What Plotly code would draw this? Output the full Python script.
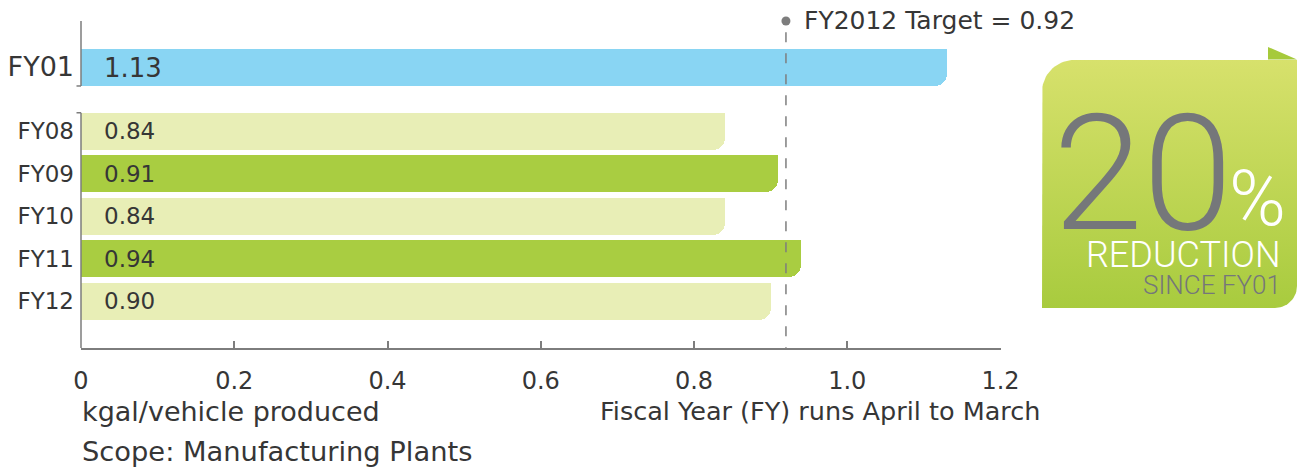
import numpy as np
import plotly.graph_objects as go

# ---------------- data ----------------
categories = ["FY01", "FY08", "FY09", "FY10", "FY11", "FY12"]
values = [1.13, 0.84, 0.91, 0.84, 0.94, 0.90]
target_value = 0.92
target_label = "FY2012 Target = 0.92"
x_tick_values = [0, 0.2, 0.4, 0.6, 0.8, 1.0, 1.2]
x_tick_labels = ["0", "0.2", "0.4", "0.6", "0.8", "1.0", "1.2"]
unit_label = "kgal/vehicle produced"
scope_label = "Scope: Manufacturing Plants"
fy_note = "Fiscal Year (FY) runs April to March"
badge_number = "20"
badge_unit = "%"
badge_word = "REDUCTION"
badge_since = "SINCE FY01"

# ---------------- styling ----------------
W, H = 1299, 472
FONT = "DejaVu Sans"
LIGHTFONT = "Roboto"
TXT = "#363636"
GREY = "#7d7d7d"
BLUE = "#89D5F3"
LIGHT = "#E8EEB6"
DARK = "#A9CD41"
bar_colors = [BLUE, LIGHT, DARK, LIGHT, DARK, LIGHT]

pos = [0.0] + [1.5 + i for i in range(len(categories) - 1)]
bar_w = 0.87
y_top, y_bot = -1.094, 6.6

px = lambda x: x / W
py = lambda y: 1 - y / H

fig = go.Figure()

fig.add_trace(go.Bar(
    x=values, y=pos, orientation="h", width=bar_w,
    marker=dict(color=bar_colors, line=dict(width=0), cornerradius=12),
    hoverinfo="skip", showlegend=False))
fig.add_trace(go.Bar(
    x=values, y=pos, orientation="h", width=bar_w / 2, offset=-bar_w / 2,
    marker=dict(color=bar_colors, line=dict(width=0)),
    hoverinfo="skip", showlegend=False))

fig.add_trace(go.Scatter(
    x=[target_value], y=[y_top], mode="markers",
    marker=dict(size=9, color=GREY), cliponaxis=False,
    hoverinfo="skip", showlegend=False))

# ---------------- badge (pixel-space overlay axes) ----------------
bx0, bx1, by0, by1 = 1042, 1297, 60, 308
r1, r2 = 32, 22
t1 = np.linspace(np.pi, 1.5 * np.pi, 20)
t2 = np.linspace(0, 0.5 * np.pi, 20)
xs = [bx0, bx0] + list(bx0 + r1 + r1 * np.cos(t1)) + [bx1]
ys = [by1, by0 + r1] + list(by0 + r1 + r1 * np.sin(t1)) + [by0]
xs += list(bx1 - r2 + r2 * np.cos(t2)) + [bx0]
ys += list(by1 - r2 + r2 * np.sin(t2)) + [by1]
fig.add_trace(go.Scatter(
    x=xs, y=ys, mode="lines", fill="toself", line=dict(width=0),
    fillgradient=dict(type="vertical", start=by0, stop=by1,
                      colorscale=[[0, "#D7E16C"], [1, "#A8CB3E"]]),
    xaxis="x2", yaxis="y2", hoverinfo="skip", showlegend=False))
fig.add_trace(go.Scatter(
    x=[1268, 1268, 1297, 1268], y=[47, 59.5, 59.5, 47], mode="lines",
    fill="toself", fillcolor="#A6CA3B", line=dict(width=0),
    xaxis="x2", yaxis="y2", hoverinfo="skip", showlegend=False))

# ---------------- shapes ----------------
shapes = []
ax_x = px(81)
tick_x = px(76.5)
ln = dict(color=GREY, width=1.5)
shapes.append(dict(type="line", xref="paper", yref="y", x0=ax_x, x1=ax_x,
                   y0=y_top, y1=pos[0] + bar_w / 2, line=ln))
shapes.append(dict(type="line", xref="paper", yref="y", x0=tick_x, x1=ax_x,
                   y0=pos[0] + bar_w / 2, y1=pos[0] + bar_w / 2, line=ln))
shapes.append(dict(type="line", xref="paper", yref="y", x0=ax_x, x1=ax_x,
                   y0=pos[1] - bar_w / 2, y1=y_bot, line=ln))
shapes.append(dict(type="line", xref="paper", yref="y", x0=tick_x, x1=ax_x,
                   y0=pos[1] - bar_w / 2, y1=pos[1] - bar_w / 2, line=ln))
shapes.append(dict(type="line", xref="x", yref="y", x0=target_value, x1=target_value,
                   y0=-0.83, y1=y_bot, line=dict(color=GREY, width=1.5, dash="10px,11px")))

# ---------------- annotations ----------------
ann = []
for i, (v, p) in enumerate(zip(values, pos)):
    ann.append(dict(x=0.028, y=p, xref="x", yref="y", text=f"{v:.2f}",
                    xanchor="left", yanchor="middle", showarrow=False,
                    font=dict(size=26 if i == 0 else 23, color=TXT)))
ann.append(dict(x=target_value, y=y_top, xref="x", yref="y", text=target_label,
                xanchor="left", yanchor="middle", xshift=16, showarrow=False,
                font=dict(size=25, color=TXT)))
ann.append(dict(x=px(80), y=py(411), xref="paper", yref="paper", text=unit_label,
                xanchor="left", yanchor="middle", showarrow=False,
                font=dict(size=27, color=TXT)))
ann.append(dict(x=px(80), y=py(451), xref="paper", yref="paper", text=scope_label,
                xanchor="left", yanchor="middle", showarrow=False,
                font=dict(size=27.3, color=TXT)))
ann.append(dict(x=px(598), y=py(411), xref="paper", yref="paper", text=fy_note,
                xanchor="left", yanchor="middle", showarrow=False,
                font=dict(size=25.5, color=TXT)))
ann.append(dict(x=px(1235), y=py(174), xref="paper", yref="paper", text=badge_number,
                xanchor="right", yanchor="middle", showarrow=False,
                font=dict(size=162, color="#75777A", family=LIGHTFONT, weight=300)))
ann.append(dict(x=px(1288), y=py(199), xref="paper", yref="paper", text=badge_unit,
                xanchor="right", yanchor="middle", showarrow=False,
                font=dict(size=77, color="white", family=LIGHTFONT, weight=300)))
ann.append(dict(x=px(1283), y=py(255), xref="paper", yref="paper", text=badge_word,
                xanchor="right", yanchor="middle", showarrow=False,
                font=dict(size=36, color="white", family=LIGHTFONT, weight=300)))
ann.append(dict(x=px(1283), y=py(284.5), xref="paper", yref="paper", text=badge_since,
                xanchor="right", yanchor="middle", showarrow=False,
                font=dict(size=26, color="#75777A", family=LIGHTFONT, weight=300)))

ticktext = [f"<span style='font-size:27px'>{c}</span>" if i == 0 else c
            for i, c in enumerate(categories)]

fig.update_layout(
    width=W, height=H, autosize=False,
    margin=dict(l=0, r=0, t=0, b=0, pad=0, autoexpand=False),
    paper_bgcolor="white", plot_bgcolor="rgba(0,0,0,0)",
    barmode="overlay", bargap=0,
    font=dict(family=FONT, color=TXT),
    showlegend=False,
    xaxis=dict(domain=[px(81), px(1000.5)], range=[0, 1.2], anchor="y",
               tickvals=x_tick_values, ticktext=x_tick_labels,
               showline=True, linecolor=GREY, linewidth=1.5,
               ticks="inside", ticklen=7, tickwidth=1.5, tickcolor=GREY,
               showgrid=False, zeroline=False, ticklabelstandoff=10,
               automargin=False, tickfont=dict(size=24, color=TXT)),
    yaxis=dict(domain=[py(348), py(21)], range=[y_bot, y_top], anchor="x",
               tickvals=pos, ticktext=ticktext, ticks="", showline=False,
               showgrid=False, zeroline=False, ticklabelstandoff=6,
               automargin=False, tickfont=dict(size=23, color=TXT)),
    xaxis2=dict(domain=[0, 1], range=[0, W], anchor="y2", visible=False, fixedrange=True),
    yaxis2=dict(domain=[0, 1], range=[H, 0], anchor="x2", visible=False, fixedrange=True),
    shapes=shapes, annotations=ann,
)

fig.write_html("out.html", config={"displayModeBar": False},
               post_script="document.body.style.margin='0';document.documentElement.style.overflow='hidden';")
